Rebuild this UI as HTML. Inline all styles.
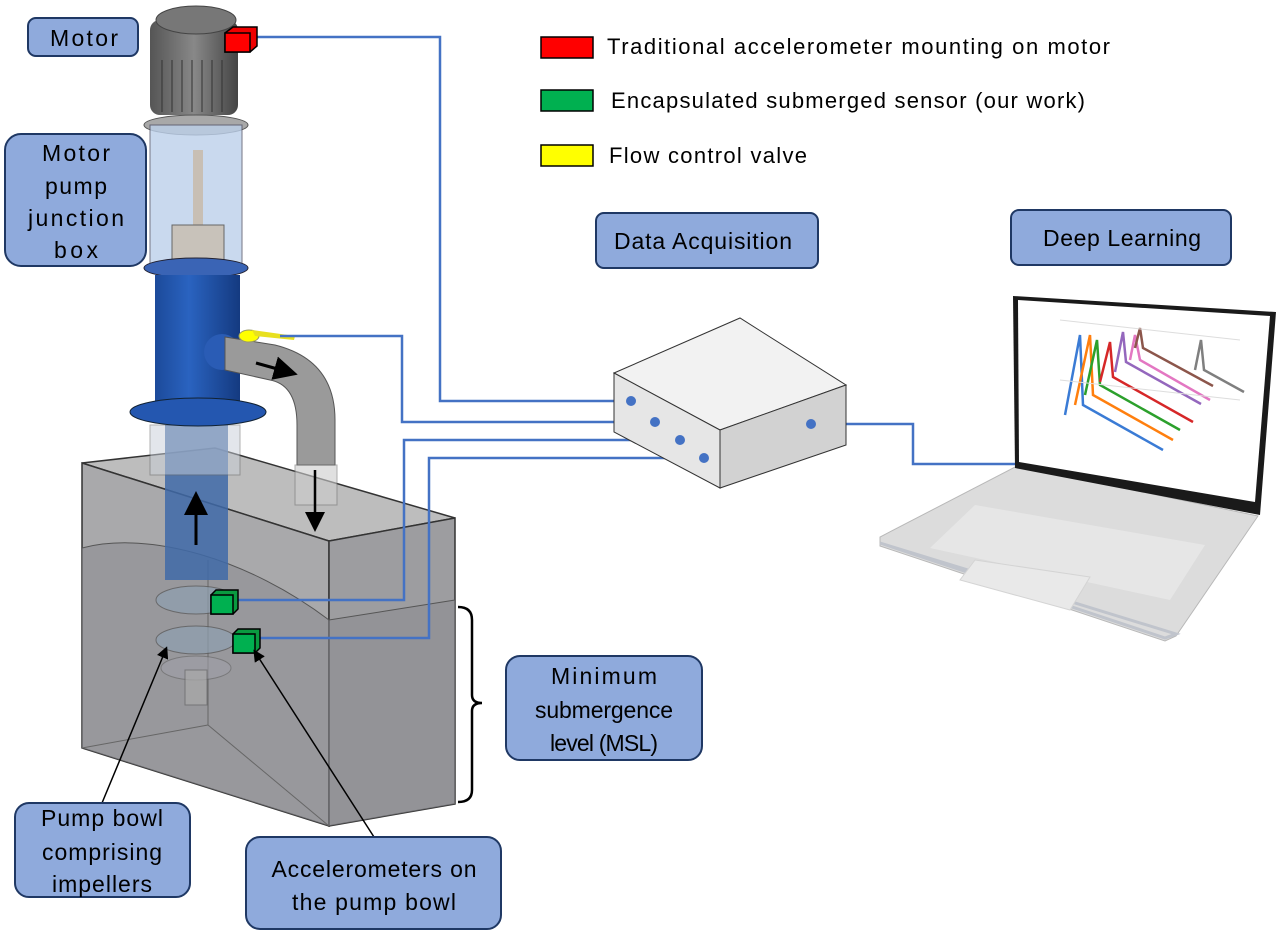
<!DOCTYPE html>
<html><head><meta charset="utf-8"><style>
body{margin:0;background:#fff;width:1286px;height:937px;overflow:hidden}
svg{display:block}
text{font-family:"Liberation Sans",sans-serif;fill:#000}
</style></head><body>
<svg width="1286" height="937" viewBox="0 0 1286 937" xmlns="http://www.w3.org/2000/svg">
<defs>
<linearGradient id="blue" x1="0" x2="1"><stop offset="0" stop-color="#1c4a9a"/><stop offset=".4" stop-color="#2a63c0"/><stop offset="1" stop-color="#143a80"/></linearGradient>
<linearGradient id="gray" x1="0" x2="1"><stop offset="0" stop-color="#555"/><stop offset=".5" stop-color="#888"/><stop offset="1" stop-color="#444"/></linearGradient>
<marker id="ah" markerWidth="8" markerHeight="8" refX="6" refY="4" orient="auto"><path d="M0,0 L8,4 L0,8z" fill="#000"/></marker>
</defs>

<!-- Tank -->
<polygon points="82,463 215,448 455,518 329,541" fill="#bdbdbd" stroke="#333" stroke-width="1.5"/>
<polygon points="82,463 329,541 329,826 82,748" fill="#a9a9ab" stroke="#333" stroke-width="1.5"/>
<polygon points="329,541 455,518 455,804 329,826" fill="#9d9da0" stroke="#333" stroke-width="1.5"/>
<path d="M82,548 C150,530 250,560 329,620 L455,600 L455,804 L329,826 L82,748Z" fill="#8a8a90" opacity=".55"/>
<path d="M82,548 C150,530 250,560 329,620 L455,600" fill="none" stroke="#555" stroke-width="1"/>
<line x1="208" y1="725" x2="329" y2="826" stroke="#666"/>
<line x1="82" y1="748" x2="208" y2="725" stroke="#666"/>
<line x1="208" y1="725" x2="208" y2="560" stroke="#666"/>

<!-- lower column in tank -->
<rect x="165" y="425" width="63" height="155" fill="#3f6aa8" opacity=".85"/>
<rect x="150" y="425" width="90" height="50" fill="#c9cfd8" opacity=".5" stroke="#666"/>
<ellipse cx="196" cy="600" rx="40" ry="14" fill="#8fa0b0" opacity=".7" stroke="#555"/>
<ellipse cx="196" cy="640" rx="40" ry="14" fill="#8fa0b0" opacity=".7" stroke="#555"/>
<ellipse cx="196" cy="668" rx="35" ry="12" fill="#a0a0a8" opacity=".6" stroke="#666"/>
<rect x="185" y="670" width="22" height="35" fill="#aaa" opacity=".7" stroke="#666"/>
<line x1="196" y1="545" x2="196" y2="497" stroke="#000" stroke-width="3" marker-end="url(#ah)"/>

<!-- Motor -->
<rect x="150" y="20" width="88" height="95" rx="10" fill="url(#gray)"/>
<ellipse cx="196" cy="20" rx="40" ry="14" fill="#777" stroke="#444"/>
<g stroke="#333" stroke-width="1">
<line x1="162" y1="60" x2="162" y2="112"/><line x1="172" y1="60" x2="172" y2="112"/><line x1="182" y1="60" x2="182" y2="112"/><line x1="192" y1="60" x2="192" y2="112"/><line x1="202" y1="60" x2="202" y2="112"/><line x1="212" y1="60" x2="212" y2="112"/><line x1="222" y1="60" x2="222" y2="112"/></g>
<ellipse cx="196" cy="125" rx="52" ry="10" fill="#a8a8a8" stroke="#555"/>
<!-- junction box -->
<rect x="150" y="125" width="92" height="140" fill="#bcd0ea" opacity=".8" stroke="#556"/>
<rect x="193" y="150" width="10" height="80" fill="#c8bfb4"/>
<rect x="172" y="225" width="52" height="40" fill="#c8c2ba" stroke="#666"/>
<ellipse cx="196" cy="268" rx="52" ry="10" fill="#3a64b5" stroke="#223"/>
<!-- blue column -->
<rect x="155" y="275" width="85" height="130" fill="url(#blue)"/>
<ellipse cx="198" cy="412" rx="68" ry="14" fill="#2457b0" stroke="#123"/>
<!-- pipe -->
<ellipse cx="222" cy="352" rx="18" ry="18" fill="#2a5cb5"/>
<path d="M225,337 L275,345 Q335,360 335,420 L335,465 L297,465 L297,425 Q297,385 270,380 L225,370Z" fill="#9a9a9a" stroke="#555"/>
<rect x="295" y="465" width="42" height="40" fill="#ccc" opacity=".6" stroke="#777"/>
<line x1="256" y1="363" x2="292" y2="373" stroke="#000" stroke-width="3" marker-end="url(#ah)"/>
<line x1="315" y1="470" x2="315" y2="527" stroke="#000" stroke-width="2.5" marker-end="url(#ah)"/>
<!-- valve -->
<ellipse cx="249" cy="336" rx="10" ry="6" fill="#ffff00" stroke="#996"/>
<path d="M252,330 L295,336 L294,340 L255,336Z" fill="#e8e020"/>

<!-- connectors -->
<g fill="none" stroke="#4472c4" stroke-width="2.5">
<polyline points="255,37 440,37 440,401 631,401"/>
<polyline points="280,336 402,336 402,422 655,422"/>
<polyline points="238,600 404,600 404,440 680,440"/>
<polyline points="260,638 429,638 429,458 704,458"/>
<polyline points="811,424 913,424 913,464 1020,464"/>
</g>

<!-- sensors -->
<g stroke="#000" stroke-width="1.5">
<polygon points="225,33 233,27 257,27 257,46 250,52 225,52" fill="#e00"/><rect x="225" y="33" width="25" height="19" fill="#f00"/>
<polygon points="211,595 216,590 238,590 238,609 233,614 211,614" fill="#0a9a40"/><rect x="211" y="595" width="22" height="19" fill="#00b050"/>
<polygon points="233,634 238,629 260,629 260,648 255,653 233,653" fill="#0a9a40"/><rect x="233" y="634" width="22" height="19" fill="#00b050"/>
</g>

<!-- DAQ box -->
<polygon points="614,373 740,318 846,385 720,430" fill="#f2f2f2" stroke="#333"/>
<polygon points="614,373 720,430 720,488 614,432" fill="#e6e6e6" stroke="#333"/>
<polygon points="720,430 846,385 846,445 720,488" fill="#d2d2d2" stroke="#333"/>
<g fill="#4472c4"><circle cx="631" cy="401" r="5"/><circle cx="655" cy="422" r="5"/><circle cx="680" cy="440" r="5"/><circle cx="704" cy="458" r="5"/><circle cx="811" cy="424" r="5"/></g>

<!-- laptop -->
<polygon points="1017,466 1258,516 1176,636 1165,641 880,546 880,537" fill="#dcdcdc" stroke="#b8b8b8"/>
<polygon points="880,543 1165,638 1176,634" fill="none" stroke="#c0c4cc" stroke-width="3"/>
<polygon points="975,505 1205,545 1170,600 930,548" fill="#e6e6e6"/>
<polygon points="975,560 1090,577 1070,610 960,580" fill="#e9e9e9" stroke="#d4d4d4"/>
<polygon points="1013,296 1276,312 1260,515 1015,468" fill="#1a1a1a"/>
<polygon points="1018,300 1270,316 1255,502 1019,462" fill="#fff"/>
<g stroke-width="2.5" fill="none">
<path d="M1065,415 l15,-80 l3,70 l80,45" stroke="#3a7bd5"/>
<path d="M1075,405 l15,-70 l3,60 l80,45" stroke="#ff7f0e"/>
<path d="M1085,395 l12,-55 l3,45 l80,45" stroke="#2ca02c"/>
<path d="M1100,382 l10,-40 l3,35 l80,45" stroke="#d62728"/>
<path d="M1115,372 l8,-40 l3,30 l75,42" stroke="#9467bd"/>
<path d="M1130,360 l5,-25 l5,25 l70,40" stroke="#e377c2"/>
<path d="M1135,348 l5,-20 l3,20 l70,38" stroke="#8c564b"/>
<path d="M1150,335 l50,0" stroke="#d62728" stroke-width="0"/>
<path d="M1195,370 l6,-30 l3,30 l40,22" stroke="#7f7f7f"/>
</g>
<g stroke="#ddd" stroke-width="1" fill="none">
<path d="M1060,320 L1240,340 M1060,380 L1240,400"/>
</g>

<!-- brace -->
<path d="M458,607 Q472,607 472,620 L472,695 Q472,703 482,703 Q472,703 472,711 L472,790 Q472,802 458,802" fill="none" stroke="#000" stroke-width="2.5"/>

<!-- callout arrows -->
<line x1="102" y1="803" x2="166" y2="649" stroke="#000" stroke-width="1.5" marker-end="url(#ah)"/>
<line x1="374" y1="837" x2="255" y2="652" stroke="#000" stroke-width="1.5" marker-end="url(#ah)"/>

<!-- labels -->
<g fill="#8faadc" stroke="#1f3864" stroke-width="2">
<rect x="28" y="18" width="110" height="38" rx="8"/>
<rect x="5" y="134" width="141" height="132" rx="16"/>
<rect x="596" y="213" width="222" height="55" rx="8"/>
<rect x="1011" y="210" width="220" height="55" rx="8"/>
<rect x="506" y="656" width="196" height="104" rx="14"/>
<rect x="15" y="803" width="175" height="94" rx="14"/>
<rect x="246" y="837" width="255" height="92" rx="14"/>
</g>
<g font-size="23" text-anchor="middle" lengthAdjust="spacingAndGlyphs">
<text x="84" y="46" textLength="68">Motor</text>
<text x="76" y="161" textLength="68">Motor</text><text x="76" y="194" textLength="62">pump</text><text x="76" y="226" textLength="96">junction</text><text x="76" y="258" textLength="44">box</text>
<text x="703" y="249" textLength="178">Data Acquisition</text>
<text x="1122" y="246" textLength="158">Deep Learning</text>
<text x="604" y="684" textLength="106">Minimum</text><text x="604" y="718" textLength="138">submergence</text><text x="604" y="751" textLength="108">level (MSL)</text>
<text x="102" y="826" textLength="122">Pump bowl</text><text x="102" y="860" textLength="120">comprising</text><text x="102" y="892" textLength="100">impellers</text>
<text x="374" y="877" textLength="205">Accelerometers on</text><text x="374" y="910" textLength="164">the pump bowl</text>
</g>

<!-- legend -->
<g stroke="#000" stroke-width="1.5">
<rect x="541" y="37" width="52" height="21" fill="#f00"/>
<rect x="541" y="90" width="52" height="21" fill="#00b050"/>
<rect x="541" y="145" width="52" height="21" fill="#ffff00"/>
</g>
<g font-size="22" lengthAdjust="spacingAndGlyphs">
<text x="607" y="54" textLength="503">Traditional accelerometer mounting on motor</text>
<text x="611" y="108" textLength="474">Encapsulated submerged sensor (our work)</text>
<text x="609" y="163" textLength="198">Flow control valve</text>
</g>
</svg>
</body></html>
